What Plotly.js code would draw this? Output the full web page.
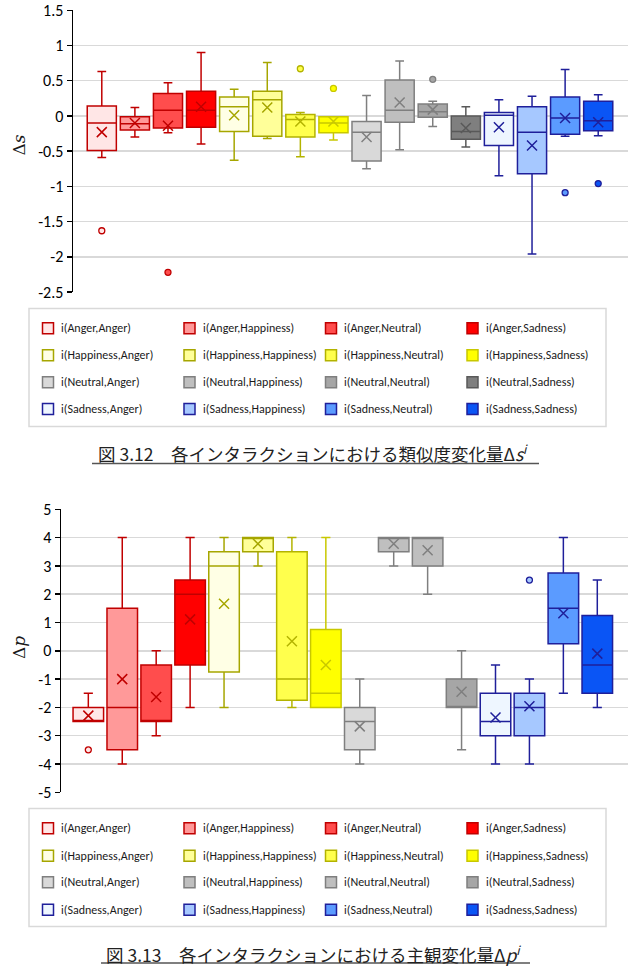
<!DOCTYPE html>
<html>
<head>
<meta charset="utf-8">
<script src="https://cdn.plot.ly/plotly-3.0.1.min.js"></script>
<style>
  html, body { margin: 0; padding: 0; background: #ffffff; }
  #fig { width: 636px; height: 980px; }
</style>
</head>
<body>
<div id="fig"></div>
<script>
// Interaction categories: i(first emotion, second emotion)
const emotions = ['Anger', 'Happiness', 'Neutral', 'Sadness'];
const categories = [
  'i(Anger,Anger)', 'i(Anger,Happiness)', 'i(Anger,Neutral)', 'i(Anger,Sadness)',
  'i(Happiness,Anger)', 'i(Happiness,Happiness)', 'i(Happiness,Neutral)', 'i(Happiness,Sadness)',
  'i(Neutral,Anger)', 'i(Neutral,Happiness)', 'i(Neutral,Neutral)', 'i(Neutral,Sadness)',
  'i(Sadness,Anger)', 'i(Sadness,Happiness)', 'i(Sadness,Neutral)', 'i(Sadness,Sadness)'
];

// Similarity change Δs — box statistics per interaction
const dsQ1     = [-0.49, -0.20, -0.17, -0.16, -0.22, -0.29, -0.30, -0.24, -0.64, -0.09, -0.02, -0.33, -0.42, -0.82, -0.26, -0.21];
const dsMedian = [-0.10, -0.11,  0.08,  0.08,  0.13,  0.23, -0.05, -0.10, -0.23,  0.08,  0.06, -0.22,  0.01, -0.23, -0.03, -0.07];
const dsQ3     = [ 0.14, -0.01,  0.32,  0.35,  0.27,  0.35,  0.02, -0.01, -0.08,  0.51,  0.17,  0.00,  0.05,  0.13,  0.27,  0.21];
const dsLower  = [-0.59, -0.30, -0.24, -0.40, -0.63, -0.32, -0.58, -0.34, -0.75, -0.48, -0.15, -0.44, -0.85, -1.96, -0.29, -0.28];
const dsUpper  = [ 0.63,  0.12,  0.47,  0.90,  0.38,  0.76,  0.05, -0.01,  0.29,  0.78,  0.21,  0.13,  0.23,  0.28,  0.66,  0.30];
const dsMean   = [-0.23, -0.10, -0.14,  0.13,  0.01,  0.12, -0.08, -0.08, -0.30,  0.19,  0.09, -0.17, -0.16, -0.42, -0.03, -0.09];
const dsOutlierBox   = [0, 2, 6, 7, 10, 14, 15];
const dsOutlierValue = [-1.63, -2.22, 0.67, 0.39, 0.52, -1.09, -0.96];

// Subjective change Δp — box statistics per interaction
const dpQ1     = [-2.5, -3.5, -2.5, -0.5, -0.75, 3.5, -1.75, -2.0, -3.5, 3.5, 3.0, -2.0, -3.0, -3.0, 0.25, -1.5];
const dpMedian = [-2.5, -2.0, -2.5,  2.0,  3.0,  4.0, -1.0, -1.5, -2.5, 4.0, 4.0, -2.0, -2.5, -2.0, 1.5, -0.5];
const dpQ3     = [-2.0,  1.5, -0.5,  2.5,  3.5,  4.0,  3.5,  0.75, -2.0, 4.0, 4.0, -1.0, -1.5, -1.5, 2.75, 1.25];
const dpLower  = [-2.5, -4.0, -3.0, -2.0, -2.0,  3.0, -2.0, -2.0, -4.0, 3.0, 2.0, -3.5, -4.0, -4.0, -1.5, -2.0];
const dpUpper  = [-1.5,  4.0,  0.0,  4.0,  4.0,  4.0,  4.0,  4.0, -1.0, 4.0, 4.0,  0.0, -0.5, -1.0, 4.0, 2.5];
const dpMean   = [-2.29, -1.0, -1.63, 1.11, 1.66, 3.78, 0.34, -0.5, -2.67, 3.78, 3.55, -1.45, -2.36, -1.96, 1.33, -0.1];
const dpOutlierBox   = [0, 13];
const dpOutlierValue = [-3.5, 2.5];

// Axis ticks
const dsTickVals   = [1.5, 1, 0.5, 0, -0.5, -1, -1.5, -2, -2.5];
const dsTickLabels = ['1.5', '1', '0.5', '0', '-0.5', '-1', '-1.5', '-2', '-2.5'];
const dpTickVals   = [5, 4, 3, 2, 1, 0, -1, -2, -3, -4, -5];
const dpTickLabels = ['5', '4', '3', '2', '1', '0', '-1', '-2', '-3', '-4', '-5'];

// Captions
const caption1 = '図 3.12　各インタラクションにおける類似度変化量Δ<i>s</i><sup><i>i</i></sup>';
const caption2 = '図 3.13　各インタラクションにおける主観変化量Δ<i>p</i><sup><i>i</i></sup>';

// Colour palettes (one per emotion family)
const edge1 = ['#C00000', '#C00000', '#C00000', '#C00000',
               '#A6A600', '#A6A600', '#B3B300', '#C8C800',
               '#7F7F7F', '#7F7F7F', '#7F7F7F', '#595959',
               '#1F1F9A', '#1F1F9A', '#1F1F9A', '#1F1F9A'];
const fill1 = ['#FFE6E6', '#FF9999', '#FF4D4D', '#FF0000',
               '#FFFFE5', '#FFFF99', '#FFFF4D', '#FFFF00',
               '#D9D9D9', '#BFBFBF', '#A6A6A6', '#7F7F7F',
               '#EEF6FF', '#A6C8FF', '#5B9BFF', '#0A55F5'];
const edge2 = edge1.map((c, i) => (i >= 8 && i < 12) ? '#7F7F7F' : c);
const fill2 = fill1.map((c, i) => (i >= 8 && i < 12) ? ['#D9D9D9', '#BFBFBF', '#BFBFBF', '#A6A6A6'][i - 8] : c);

const W = 636, H = 980;
const fx = px => px / W;
const fy = px => 1 - px / H;
const uiFont = 'Carlito, Calibri, Lato, "Liberation Sans", sans-serif';
const cjkFont = '"Noto Sans CJK JP", "Noto Sans", sans-serif';

const traces = [];

function addChart(xa, ya, q1, med, q3, lo, hi, mean, oBox, oVal, edge, fill, boxWidth) {
  categories.forEach((name, i) => {
    traces.push({
      type: 'box', name: name, xaxis: xa, yaxis: ya,
      x: [i], q1: [q1[i]], median: [med[i]], q3: [q3[i]],
      lowerfence: [lo[i]], upperfence: [hi[i]],
      width: boxWidth, whiskerwidth: 0.3, boxpoints: false,
      fillcolor: fill[i], line: { color: edge[i], width: 1.5 },
      showlegend: false, hoverinfo: 'skip'
    });
  });
  // mean markers
  traces.push({
    type: 'scatter', mode: 'markers', xaxis: xa, yaxis: ya,
    x: categories.map((_, i) => i), y: mean,
    marker: { symbol: 'x-thin-open', size: 10, color: edge, line: { color: edge, width: 1.5 } },
    showlegend: false, hoverinfo: 'skip'
  });
  // outliers
  traces.push({
    type: 'scatter', mode: 'markers', xaxis: xa, yaxis: ya,
    x: oBox, y: oVal,
    marker: { symbol: 'circle', size: 6,
              color: oBox.map(i => fill[i]),
              line: { color: oBox.map(i => edge[i]), width: 1.3 } },
    showlegend: false, hoverinfo: 'skip'
  });
}

addChart('x', 'y', dsQ1, dsMedian, dsQ3, dsLower, dsUpper, dsMean, dsOutlierBox, dsOutlierValue, edge1, fill1, 0.88);
addChart('x2', 'y2', dpQ1, dpMedian, dpQ3, dpLower, dpUpper, dpMean, dpOutlierBox, dpOutlierValue, edge2, fill2, 0.9);

const shapes = [];
const annotations = [];

// Legend grid: rows = first emotion, columns = second emotion
function addLegend(top, bottom, rowY, edge, fill) {
  shapes.push({ type: 'rect', xref: 'paper', yref: 'paper',
    x0: fx(29), x1: fx(606), y0: fy(bottom), y1: fy(top),
    line: { color: '#D9D9D9', width: 1.5 }, fillcolor: 'rgba(0,0,0,0)' });
  const colSwatch = [42.5, 184, 325.5, 467];
  categories.forEach((name, i) => {
    const r = Math.floor(i / 4), c = i % 4;
    const y = rowY[r];
    shapes.push({ type: 'rect', xref: 'paper', yref: 'paper',
      x0: fx(colSwatch[c]), x1: fx(colSwatch[c] + 11), y0: fy(y + 5.5), y1: fy(y - 5.5),
      line: { color: edge[i], width: 1.5 }, fillcolor: fill[i] });
    annotations.push({ xref: 'paper', yref: 'paper', x: fx(colSwatch[c] + 16.5), y: fy(y),
      xanchor: 'left', yanchor: 'middle', showarrow: false, text: name,
      font: { family: uiFont, size: 12, color: '#1a1a1a' } });
  });
}
addLegend(308.5, 426.5, [328.3, 355.3, 382.3, 409], edge1, fill1);
addLegend(808.5, 926.5, [828.3, 855.7, 882.3, 909.7], edge2, fill2);

// Captions with underline
function addCaption(text, yc, yLine, x0, x1) {
  annotations.push({ xref: 'paper', yref: 'paper', x: fx(313), y: fy(yc),
    xanchor: 'center', yanchor: 'middle', showarrow: false, text: text,
    font: { family: cjkFont, size: 17.5, color: '#222222' } });
  shapes.push({ type: 'line', xref: 'paper', yref: 'paper',
    x0: fx(x0), x1: fx(x1), y0: fy(yLine), y1: fy(yLine),
    line: { color: '#555555', width: 1.3 } });
}
addCaption(caption1, 452.5, 463.5, 92, 539);
addCaption(caption2, 953.5, 963, 101, 530);

// Axis titles
annotations.push({ xref: 'paper', yref: 'paper', x: fx(18.5), y: fy(145), textangle: -90,
  showarrow: false, xanchor: 'center', yanchor: 'middle', text: 'Δ<i>s</i>',
  font: { family: '"DejaVu Serif", serif', size: 17, color: '#1a1a1a' } });
annotations.push({ xref: 'paper', yref: 'paper', x: fx(19), y: fy(648), textangle: -90,
  showarrow: false, xanchor: 'center', yanchor: 'middle', text: 'Δ<i>p</i>',
  font: { family: '"DejaVu Serif", serif', size: 17, color: '#1a1a1a' } });

const yAxisBase = {
  showgrid: true, gridcolor: '#D9D9D9', gridwidth: 1.5, zeroline: false,
  showline: true, linecolor: '#000000', linewidth: 1.5,
  ticks: 'outside', ticklen: 5, tickwidth: 1.5, tickcolor: '#000000',
  tickfont: { family: uiFont, size: 16, color: '#000000' }, fixedrange: true
};
const xAxisBase = { showgrid: false, zeroline: false, showline: false, showticklabels: false, ticks: '', fixedrange: true };

const layout = {
  width: W, height: H,
  margin: { l: 0, r: 0, t: 0, b: 0 },
  paper_bgcolor: '#ffffff', plot_bgcolor: '#ffffff',
  showlegend: false,
  xaxis: Object.assign({}, xAxisBase, { domain: [fx(73), fx(628)], range: [-0.87, 15.9], anchor: 'y' }),
  yaxis: Object.assign({}, yAxisBase, { domain: [fy(292), fy(10.3)], range: [-2.5, 1.5], anchor: 'x',
    tickmode: 'array', tickvals: dsTickVals, ticktext: dsTickLabels }),
  xaxis2: Object.assign({}, xAxisBase, { domain: [fx(61), fx(628)], range: [-0.805, 15.905], anchor: 'y2' }),
  yaxis2: Object.assign({}, yAxisBase, { domain: [fy(792.3), fy(509.3)], range: [-5, 5], anchor: 'x2',
    tickmode: 'array', tickvals: dpTickVals, ticktext: dpTickLabels }),
  shapes: shapes,
  annotations: annotations
};

Plotly.newPlot('fig', traces, layout, { staticPlot: true, displayModeBar: false });
</script>
</body>
</html>
